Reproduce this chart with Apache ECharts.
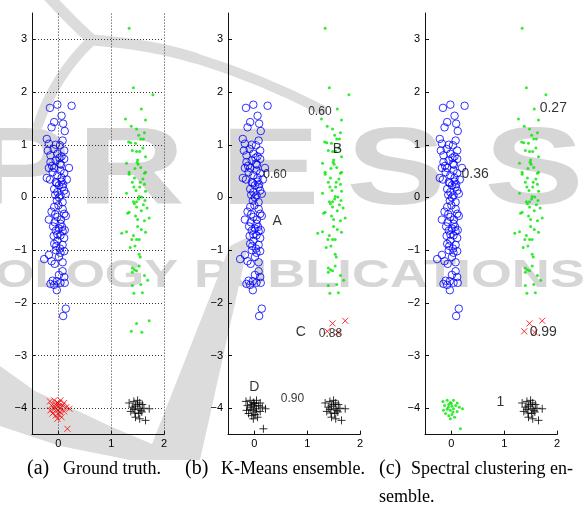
<!DOCTYPE html>
<html><head><meta charset="utf-8">
<script src="https://cdn.jsdelivr.net/npm/echarts@6/dist/echarts.min.js"></script>
<style>html,body{margin:0;padding:0;background:#fff}#c{width:585px;height:507px}</style>
</head><body><div id="c"></div>
<script>
// ---- data ----
const blueX = [-0.02,0.25,-0.16,0.06,-0.08,0.09,-0.13,0.12,-0.22,0.08,-0.18,-0.05,0.03,-0.09,0.11,-0.20,-0.02,-0.15,0.06,-0.05,0.11,0.03,-0.15,-0.18,-0.08,0.20,0.04,-0.11,0.11,-0.02,-0.22,-0.16,0.06,0.16,-0.05,0.01,0.08,-0.08,0.11,-0.02,0.04,0.14,0.01,-0.03,0.08,-0.08,0.08,-0.13,0.11,-0.18,-0.02,-0.07,0.04,0.14,0.01,0.08,-0.05,-0.09,0.04,0.11,-0.02,0.08,-0.08,0.03,-0.05,0.11,-0.18,-0.27,-0.13,0.01,0.08,-0.07,0.08,0.01,0.11,-0.11,-0.03,-0.15,-0.08,0.04,0.12,-0.03,0.14,0.09,0.05,-0.03,0.06,0.00,-0.06,0.05,-0.10,0.07,-0.02,0.12,-0.04,0.04,-0.12,0.02,0.09,-0.06];
const blueY = [1.76,1.74,1.70,1.55,1.43,1.40,1.33,1.26,1.11,1.08,1.02,1.00,0.99,0.92,0.89,0.89,0.83,0.80,0.78,0.70,0.73,0.64,0.67,0.56,0.56,0.56,0.51,0.48,0.46,0.42,0.37,0.34,0.37,0.34,0.29,0.23,0.20,0.16,0.13,0.10,0.04,0.07,0.00,-0.06,-0.09,-0.18,-0.22,-0.27,-0.31,-0.42,-0.37,-0.47,-0.50,-0.35,-0.59,-0.64,-0.63,-0.73,-0.72,-0.77,-0.82,-0.90,-0.88,-0.97,-1.00,-1.02,-1.09,-1.17,-1.21,-1.13,-1.23,-1.26,-1.40,-1.47,-1.51,-1.58,-1.59,-1.64,-1.66,-1.62,-1.62,-1.76,-2.11,-2.25,0.62,0.27,0.30,-0.15,-0.32,-0.42,-0.55,-0.56,-0.70,-0.62,-0.92,-1.05,0.60,0.75,0.25,0.05];
const greenX = [1.34,1.42,1.79,1.57,1.27,1.65,1.38,1.48,1.63,1.56,1.61,1.33,1.37,1.46,1.60,1.40,1.48,1.54,1.65,1.50,1.29,1.49,1.51,1.56,1.65,1.34,1.34,1.63,1.44,1.55,1.40,1.54,1.63,1.43,1.29,1.47,1.65,1.53,1.58,1.52,1.42,1.48,1.64,1.68,1.48,1.34,1.31,1.57,1.46,1.50,1.63,1.72,1.57,1.65,1.29,1.20,1.42,1.48,1.39,1.53,1.45,1.53,1.55,1.53,1.40,1.44,1.48,1.40,1.63,1.69,1.40,1.56,1.43,1.59,1.50,1.44,1.60,1.36,1.52,1.45,1.61];
const greenY = [3.21,2.08,1.95,1.68,1.49,1.47,1.35,1.30,1.23,1.11,1.11,1.05,1.04,1.03,0.94,0.89,0.87,0.87,0.77,0.71,0.65,0.67,0.63,0.57,0.48,0.48,0.44,0.46,0.37,0.29,0.29,0.20,0.25,0.20,0.08,0.13,0.12,0.02,0.01,-0.03,-0.08,-0.08,-0.06,-0.20,-0.18,-0.28,-0.30,-0.25,-0.35,-0.42,-0.44,-0.39,-0.61,-0.66,-0.65,-0.68,-0.72,-0.80,-0.80,-0.80,-0.92,-1.08,-1.13,-1.30,-1.34,-1.37,-1.39,-1.42,-1.48,-1.57,-1.67,-1.65,-1.82,-1.81,-0.55,-0.12,0.35,-0.95,1.18,0.55,-0.14];
const outX = [1.72,1.48,1.38,1.58];
const outY = [-2.34,-2.39,-2.54,-2.56];
const redX = [-0.16,-0.08,-0.02,0.04,0.11,-0.13,-0.05,0.01,0.08,0.15,0.21,-0.08,-0.02,0.04,0.11,-0.11,-0.05,0.01,0.06,-0.02,0.17,0.00,0.03,-0.06,-0.15];
const redY = [-3.87,-3.85,-3.89,-3.85,-3.90,-3.95,-3.93,-3.96,-3.95,-3.98,-4.01,-4.02,-4.04,-4.01,-4.06,-4.10,-4.14,-4.12,-4.17,-4.20,-4.39,-3.91,-4.07,-3.98,-4.04];
const blackX = [1.34,1.43,1.50,1.54,1.59,1.40,1.46,1.53,1.62,1.72,1.37,1.45,1.52,1.58,1.46,1.54,1.65,1.50,1.56,1.43];
const blackY = [-3.90,-3.87,-3.85,-3.90,-3.93,-3.98,-3.96,-4.01,-4.00,-4.01,-4.06,-4.09,-4.10,-4.07,-4.17,-4.20,-4.23,-3.93,-4.04,-4.02];
const xTicks = [0,1,2];
const yTicks = [-4,-3,-2,-1,0,1,2,3];
const annBText = ['0.60','A','0.60','B','C','0.88','D','0.90'];
const annBX = [0.39,0.43,1.24,1.57,0.88,1.44,0.00,0.72];
const annBY = [0.44,-0.45,1.63,0.91,-2.56,-2.59,-3.59,-3.81];
const annCText = ['0.36','0.27','0.99','1'];
const annCX = [0.45,1.93,1.74,0.93];
const annCY = [0.44,1.69,-2.56,-3.89];
const capLabels = ['(a)','(b)','(c)'];
const capTexts = ['Ground truth.','K-Means ensemble.','Spectral clustering en-'];
const capCont = 'semble.';

// ---- build ----
const zip = (xs, ys) => xs.map((x, i) => [x, ys[i]]);
const SANS = '"Liberation Sans", Arial, sans-serif';
const SERIF = '"Liberation Serif", "Times New Roman", serif';
const minus = v => String(v).replace('-', '\u2212');
const gridLeft = [32, 228, 425];
const grids = gridLeft.map(l => ({left: l, top: 13, width: 132, height: 421.6}));
const xAxes = gridLeft.map((_, i) => ({
  gridIndex: i, type: 'value', min: -0.5, max: 2,
  axisLine: {show: true, onZero: false, lineStyle: {color: '#111', width: 1}},
  axisTick: {show: true, inside: true, length: 4, customValues: xTicks, lineStyle: {color: '#111'}},
  axisLabel: {customValues: xTicks, color: '#000', fontSize: 11, fontFamily: SANS, margin: 4, formatter: minus},
  splitLine: {show: false}
}));
const yAxes = gridLeft.map((_, i) => ({
  gridIndex: i, type: 'value', min: -4.5, max: 3.5,
  axisLine: {show: true, onZero: false, lineStyle: {color: '#111', width: 1}},
  axisTick: {show: true, inside: true, length: 4, customValues: yTicks, lineStyle: {color: '#111'}},
  axisLabel: {customValues: yTicks, color: '#000', fontSize: 11, fontFamily: SANS, margin: 5, formatter: minus},
  splitLine: {show: false}
}));
const CROSS = 'path://M0,0L10,10M10,0L0,10';
const PLUS = 'path://M5,0L5,10M0,5L10,5';
const circles = (i, d) => ({type: 'scatter', xAxisIndex: i, yAxisIndex: i, data: d, symbol: 'circle', symbolSize: 7.5,
  itemStyle: {color: 'rgba(0,0,0,0)', borderColor: '#0000ff', borderWidth: 1}, z: 3});
const dots = (i, d) => ({type: 'scatter', xAxisIndex: i, yAxisIndex: i, data: d, symbol: 'circle', symbolSize: 3,
  itemStyle: {color: '#00e600'}, z: 3});
const crosses = (i, d) => ({type: 'scatter', xAxisIndex: i, yAxisIndex: i, data: d, symbol: CROSS, symbolSize: 6,
  itemStyle: {color: 'rgba(0,0,0,0)', borderColor: '#ff0000', borderWidth: 1}, z: 3});
const pluses = (i, d) => ({type: 'scatter', xAxisIndex: i, yAxisIndex: i, data: d, symbol: PLUS, symbolSize: 8,
  itemStyle: {color: 'rgba(0,0,0,0)', borderColor: '#000', borderWidth: 1}, z: 3});
const annots = (i, texts, xs, ys, size) => ({type: 'scatter', xAxisIndex: i, yAxisIndex: i, symbolSize: 0, z: 5,
  data: texts.map((t, k) => ({name: t, value: [xs[k], ys[k]],
    label: {fontSize: size(t)}})),
  label: {show: true, position: 'inside', color: '#000', textBorderWidth: 0, fontFamily: SANS, formatter: p => p.name},
  labelLayout: {hideOverlap: false}
});

const blue = zip(blueX, blueY), green = zip(greenX, greenY), out = zip(outX, outY);
const red = zip(redX, redY), black = zip(blackX, blackY);

const annB = annots(1, annBText, annBX, annBY, t => /\d/.test(t) ? 12 : 14);
const annC = annots(2, annCText, annCX, annCY, t => 14);

const series = [
  {type: 'scatter', xAxisIndex: 0, yAxisIndex: 0, data: [], z: 1,
   markLine: {silent: true, symbol: ['none', 'none'], label: {show: false}, animation: false,
     lineStyle: {color: '#333', type: [1, 2], width: 1},
     data: [...xTicks.map(v => ({xAxis: v})), ...yTicks.map(v => ({yAxis: v}))]}},
  circles(0, blue), dots(0, green.concat(out)), crosses(0, red), pluses(0, black),
  circles(1, blue), dots(1, green), crosses(1, out), pluses(1, red.concat(black)), annB,
  circles(2, blue), dots(2, green.concat(red)), crosses(2, out), pluses(2, black), annC
];

// watermark (background decoration)
const WM = '#d6d6d6';
const wmFont = s => 'bold ' + s + 'px "Liberation Sans", Arial, sans-serif';
const graphic = [];
[['P', 20], ['R', 131], ['E', 270], ['S', 396], ['S', 534]].forEach(([ch, cx]) => {
  graphic.push({type: 'text', x: cx, y: 174, scaleX: 1.37, z: -10, silent: true,
    style: {text: ch, font: wmFont(109), fill: WM, align: 'center', verticalAlign: 'middle'}});
});
graphic.push({type: 'text', x: -5, y: 276, scaleX: 1.3, z: -10, silent: true,
  style: {text: 'OLOGY', font: wmFont(39), fill: WM, align: 'left', verticalAlign: 'middle'}});
graphic.push({type: 'text', x: 194, y: 276, scaleX: 1.35, z: -10, silent: true,
  style: {text: 'PUBLICATIONS', font: wmFont(39), fill: WM, align: 'left', verticalAlign: 'middle'}});
const curve = (x1, y1, cx, cy, x2, y2, w) => ({type: 'bezierCurve', z: -10, silent: true,
  shape: {x1: x1, y1: y1, cpx1: cx, cpy1: cy, x2: x2, y2: y2},
  style: {fill: 'none', stroke: '#dcdcdc', lineWidth: w, lineCap: 'round'}});
graphic.push(curve(48, -4, 70, 20, 92, 40, 11));
graphic.push(curve(92, 40, 150, 44, 195, 58, 11));
graphic.push(curve(195, 58, 260, 78, 322, 110, 10));
graphic.push(curve(92, 40, 55, 75, 38, 125, 10));
graphic.push({type: 'polygon', z: -10, silent: true,
  shape: {points: [[0,366],[35,391],[112,427],[152,444],[230,246],[250,236],[200,460],[130,460],[60,446],[0,426]]},
  style: {fill: '#dcdcdc'}});
// captions
const capY = 469;
[[27, 63], [185, 221], [379, 411]].forEach(([lx, tx], i) => {
  graphic.push({type: 'text', x: lx, y: capY, z: 10, style: {text: capLabels[i], font: '20px ' + SERIF, fill: '#000', align: 'left', verticalAlign: 'middle'}});
  graphic.push({type: 'text', x: tx, y: capY, z: 10, style: {text: capTexts[i], font: '18px ' + SERIF, fill: '#000', align: 'left', verticalAlign: 'middle'}});
});
graphic.push({type: 'text', x: 379, y: 497, z: 10, style: {text: capCont, font: '18px ' + SERIF, fill: '#000', align: 'left', verticalAlign: 'middle'}});

const chart = echarts.init(document.getElementById('c'), null, {renderer: 'canvas'});
chart.setOption({
  animation: false,
  backgroundColor: '#fff',
  grid: grids, xAxis: xAxes, yAxis: yAxes,
  series: series,
  graphic: {elements: graphic}
});
</script></body></html>
